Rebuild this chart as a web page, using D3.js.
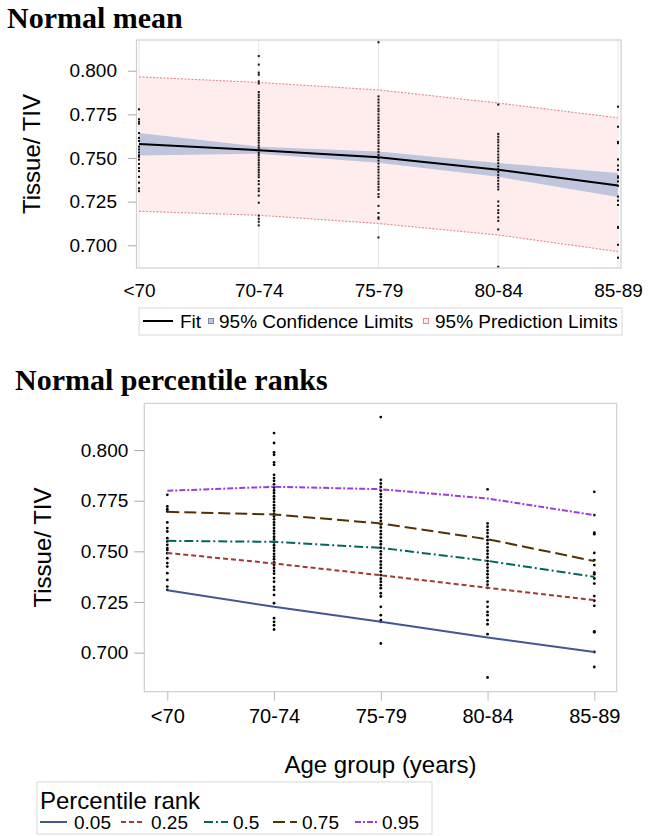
<!DOCTYPE html>
<html>
<head>
<meta charset="utf-8">
<script src="https://cdn.jsdelivr.net/npm/d3@7"></script>
<style>
  html, body { margin: 0; padding: 0; background: #fff; }
  svg { display: block; }
</style>
</head>
<body>
<svg id="chart" width="648" height="836"></svg>
<script>
// ---------- DATA ----------
const categories = ["<70", "70-74", "75-79", "80-84", "85-89"];
const yTicks = [0.700, 0.725, 0.750, 0.775, 0.800];

// Top panel: fit, confidence and prediction limits
const fitValues  = [0.7580, 0.7545, 0.7505, 0.7433, 0.7343];
const clUpper    = [0.7643, 0.7565, 0.7537, 0.7472, 0.7414];
const clLower    = [0.7514, 0.7525, 0.7473, 0.7392, 0.7277];
const plUpper    = [0.7965, 0.7933, 0.7890, 0.7815, 0.7730];
const plLower    = [0.7195, 0.7172, 0.7125, 0.7059, 0.6964];

// Bottom panel: percentile rank curves
const percentileLabels = ["0.05", "0.25", "0.5", "0.75", "0.95"];
const p05 = [0.7308, 0.7226, 0.7152, 0.7075, 0.7003];
const p25 = [0.7492, 0.7440, 0.7382, 0.7320, 0.7259];
const p50 = [0.7552, 0.7547, 0.7517, 0.7453, 0.7374];
const p75 = [0.7695, 0.7682, 0.7638, 0.7560, 0.7452];
const p95 = [0.7799, 0.7819, 0.7807, 0.7761, 0.7679];

// Observed Tissue/TIV values per age group
const obsLt70 = [0.7779, 0.7722, 0.7708, 0.7697, 0.7643, 0.7615, 0.7598, 0.7565, 0.7549, 0.7532,
  0.7516, 0.7507, 0.7491, 0.7466, 0.7442, 0.7425, 0.7392, 0.7359, 0.7326, 0.7310];
const obs70to74 = [0.8084, 0.8035, 0.7989, 0.7977, 0.7939, 0.7927, 0.7878, 0.7862, 0.7848, 0.7831,
  0.7815, 0.7801, 0.7788, 0.7772, 0.7759, 0.7744, 0.7728, 0.7715, 0.7701, 0.7686, 0.7672, 0.7658,
  0.7643, 0.7630, 0.7615, 0.7601, 0.7588, 0.7572, 0.7559, 0.7545, 0.7530, 0.7517, 0.7503, 0.7488,
  0.7474, 0.7461, 0.7446, 0.7432, 0.7418, 0.7404, 0.7390, 0.7368, 0.7350, 0.7325, 0.7310, 0.7285,
  0.7244, 0.7170, 0.7152, 0.7135, 0.7114];
const obs75to79 = [0.8163, 0.7853, 0.7835, 0.7818, 0.7800, 0.7782, 0.7768, 0.7750, 0.7732, 0.7716,
  0.7700, 0.7683, 0.7667, 0.7650, 0.7633, 0.7618, 0.7600, 0.7585, 0.7568, 0.7550, 0.7535, 0.7518,
  0.7500, 0.7485, 0.7468, 0.7450, 0.7434, 0.7418, 0.7400, 0.7383, 0.7365, 0.7350, 0.7333, 0.7318,
  0.7293, 0.7277, 0.7226, 0.7185, 0.7160, 0.7152, 0.7045];
const obs80to84 = [0.7806, 0.7638, 0.7622, 0.7605, 0.7590, 0.7572, 0.7555, 0.7538, 0.7520, 0.7503,
  0.7487, 0.7470, 0.7452, 0.7436, 0.7420, 0.7403, 0.7387, 0.7370, 0.7352, 0.7336, 0.7320, 0.7251,
  0.7226, 0.7201, 0.7185, 0.7160, 0.7140, 0.7091, 0.6877];
const obs85to89 = [0.7794, 0.7679, 0.7592, 0.7585, 0.7492, 0.7457, 0.7432, 0.7395, 0.7387, 0.7366,
  0.7341, 0.7279, 0.7256, 0.7231, 0.7105, 0.7100, 0.7003, 0.6929];

// ---------- STYLE ----------
const SANS = "'Liberation Sans', Arial, Helvetica, sans-serif";
const SERIF = "'Liberation Serif', 'Times New Roman', serif";
const FRAME = "#cfcfcf";
const pctColors = ["#445694", "#A23A2E", "#01665E", "#543005", "#9D3CDB"];
const pctDash = [null, "5,3", "9,3,2,3", "12,5", "6,2,2,2"];

const observations = [obsLt70, obs70to74, obs75to79, obs80to84, obs85to89];
const obsPoints = [];
observations.forEach((vals, i) => vals.forEach(v => obsPoints.push({cat: categories[i], v})));

const svg = d3.select("#chart");

// ================= TOP PANEL =================
const T = {left: 136.5, right: 621, top: 40, bottom: 268};
const xT = d3.scalePoint().domain(categories).range([139, 618]);
const yT = d3.scaleLinear().domain([0.687, 0.8176]).range([T.bottom, T.top]);

svg.append("text").attr("x", 7).attr("y", 28)
  .attr("font-family", SERIF).attr("font-weight", "bold").attr("font-size", 30)
  .text("Normal mean");

const gT = svg.append("g");
// gridlines
gT.selectAll("line.grid").data(categories).join("line")
  .attr("x1", d => xT(d)).attr("x2", d => xT(d))
  .attr("y1", T.top).attr("y2", T.bottom)
  .attr("stroke", "#e6e6e6").attr("stroke-width", 1);

// prediction band
const areaT = (up, lo) => d3.area()
  .x((d, i) => xT(categories[i]))
  .y0((d, i) => yT(lo[i])).y1((d, i) => yT(up[i]));
gT.append("path").datum(categories).attr("d", areaT(plUpper, plLower))
  .attr("fill", "#ffecec");
const lineT = arr => d3.line().x((d, i) => xT(categories[i])).y((d, i) => yT(arr[i]));
[plUpper, plLower].forEach(arr => {
  gT.append("path").datum(categories).attr("d", lineT(arr))
    .attr("fill", "none").attr("stroke", "#e08a8e").attr("stroke-width", 1.1)
    .attr("stroke-dasharray", "2,1.5");
});
// confidence band
gT.append("path").datum(categories).attr("d", areaT(clUpper, clLower))
  .attr("fill", "#bfc5dd");

// observations
gT.selectAll("rect.obs").data(obsPoints).join("rect")
  .attr("x", d => xT(d.cat) - 1).attr("y", d => yT(d.v) - 1)
  .attr("width", 2).attr("height", 2).attr("fill", "#111");

// fit line
gT.append("path").datum(categories).attr("d", lineT(fitValues))
  .attr("fill", "none").attr("stroke", "#000").attr("stroke-width", 2);

// frame
gT.append("rect").attr("x", T.left).attr("y", T.top)
  .attr("width", T.right - T.left).attr("height", T.bottom - T.top)
  .attr("fill", "none").attr("stroke", FRAME).attr("stroke-width", 1.2);

// axes
const yAxT = gT.append("g").attr("transform", `translate(${T.left},0)`)
  .call(d3.axisLeft(yT).tickValues(yTicks).tickFormat(d3.format(".3f")).tickSize(8.5).tickPadding(11));
yAxT.select(".domain").remove();
yAxT.selectAll("line").attr("stroke", "#aaa");
yAxT.selectAll("text").attr("font-family", SANS).attr("font-size", 19).attr("fill", "#000");

const xAxT = gT.append("g").attr("transform", `translate(0,${T.bottom})`)
  .call(d3.axisBottom(xT).tickSize(0).tickPadding(15.5));
xAxT.select(".domain").remove();
xAxT.selectAll("text").attr("font-family", SANS).attr("font-size", 19).attr("fill", "#000");

svg.append("text").attr("transform", `translate(40,${(T.top + T.bottom) / 2}) rotate(-90)`)
  .attr("text-anchor", "middle").attr("font-family", SANS).attr("font-size", 24)
  .text("Tissue/ TIV");

// top legend
const lgT = svg.append("g");
lgT.append("rect").attr("x", 139).attr("y", 308).attr("width", 483).attr("height", 27)
  .attr("fill", "#fff").attr("stroke", "#d8d8d8");
lgT.append("line").attr("x1", 143).attr("x2", 173).attr("y1", 321).attr("y2", 321)
  .attr("stroke", "#000").attr("stroke-width", 2);
lgT.append("text").attr("x", 180).attr("y", 328).attr("font-family", SANS).attr("font-size", 19).text("Fit");
lgT.append("rect").attr("x", 208.5).attr("y", 318.5).attr("width", 5).attr("height", 5)
  .attr("fill", "#bfc5dd").attr("stroke", "#7f86a3").attr("stroke-width", 1);
lgT.append("text").attr("x", 219).attr("y", 328).attr("font-family", SANS).attr("font-size", 19)
  .text("95% Confidence Limits");
lgT.append("rect").attr("x", 423.5).attr("y", 318.5).attr("width", 5).attr("height", 5)
  .attr("fill", "#ffecec").attr("stroke", "#e08a8e").attr("stroke-width", 1);
lgT.append("text").attr("x", 435).attr("y", 328).attr("font-family", SANS).attr("font-size", 19)
  .text("95% Prediction Limits");

// ================= BOTTOM PANEL =================
const B = {left: 144.3, right: 616.7, top: 403.3, bottom: 691.7};
const xB = d3.scalePoint().domain(categories).range([167.3, 594.3]);
const yB = d3.scaleLinear().domain([0.6807, 0.8231]).range([B.bottom, B.top]);

svg.append("text").attr("x", 15).attr("y", 390)
  .attr("font-family", SERIF).attr("font-weight", "bold").attr("font-size", 30)
  .text("Normal percentile ranks");

const gB = svg.append("g");
gB.append("rect").attr("x", B.left).attr("y", B.top)
  .attr("width", B.right - B.left).attr("height", B.bottom - B.top)
  .attr("fill", "none").attr("stroke", FRAME).attr("stroke-width", 1.2);

gB.selectAll("circle.obs").data(obsPoints).join("circle")
  .attr("cx", d => xB(d.cat)).attr("cy", d => yB(d.v)).attr("r", 1.4).attr("fill", "#000");

const pctSeries = [p05, p25, p50, p75, p95];
const lineB = arr => d3.line().x((d, i) => xB(categories[i])).y((d, i) => yB(arr[i]));
pctSeries.forEach((arr, k) => {
  gB.append("path").datum(categories).attr("d", lineB(arr))
    .attr("fill", "none").attr("stroke", pctColors[k]).attr("stroke-width", 2)
    .attr("stroke-dasharray", pctDash[k]);
});

const yAxB = gB.append("g").attr("transform", `translate(${B.left},0)`)
  .call(d3.axisLeft(yB).tickValues(yTicks).tickFormat(d3.format(".3f")).tickSize(10).tickPadding(6));
yAxB.select(".domain").remove();
yAxB.selectAll("line").attr("stroke", "#aaa");
yAxB.selectAll("text").attr("font-family", SANS).attr("font-size", 19).attr("fill", "#000");

const xAxB = gB.append("g").attr("transform", `translate(0,${B.bottom})`)
  .call(d3.axisBottom(xB).tickSize(9).tickPadding(8.5));
xAxB.select(".domain").remove();
xAxB.selectAll("line").attr("stroke", "#bbb");
xAxB.selectAll("text").attr("font-family", SANS).attr("font-size", 20).attr("fill", "#000");

svg.append("text").attr("transform", `translate(51,${(B.top + B.bottom) / 2}) rotate(-90)`)
  .attr("text-anchor", "middle").attr("font-family", SANS).attr("font-size", 24)
  .text("Tissue/ TIV");

svg.append("text").attr("x", (B.left + B.right) / 2).attr("y", 773)
  .attr("text-anchor", "middle").attr("font-family", SANS).attr("font-size", 24)
  .text("Age group (years)");

// bottom legend
const lgB = svg.append("g");
lgB.append("rect").attr("x", 37).attr("y", 782).attr("width", 395).attr("height", 52)
  .attr("fill", "#fff").attr("stroke", "#d8d8d8");
lgB.append("text").attr("x", 40).attr("y", 809).attr("font-family", SANS).attr("font-size", 24)
  .text("Percentile rank");
const legX = [[40, 67, 74], [121, 145, 151], [204, 228, 233], [273, 297, 302], [355, 377, 382]];
percentileLabels.forEach((lab, k) => {
  lgB.append("line").attr("x1", legX[k][0]).attr("x2", legX[k][1]).attr("y1", 822).attr("y2", 822)
    .attr("stroke", pctColors[k]).attr("stroke-width", 2).attr("stroke-dasharray", pctDash[k]);
  lgB.append("text").attr("x", legX[k][2]).attr("y", 829).attr("font-family", SANS).attr("font-size", 19)
    .text(lab);
});
</script>
</body>
</html>
